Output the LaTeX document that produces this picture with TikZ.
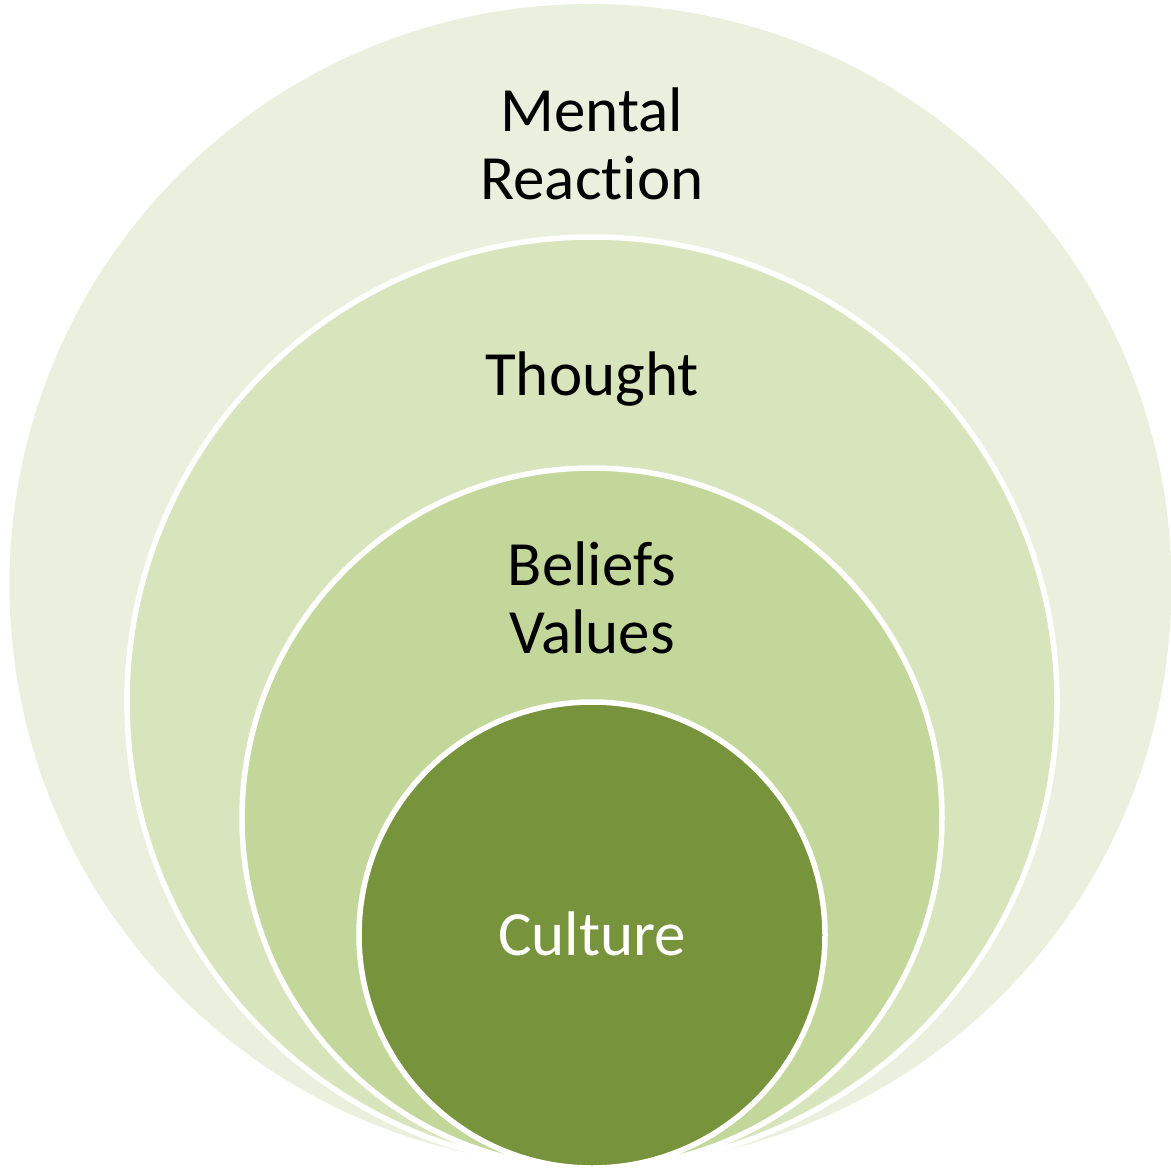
\documentclass[tikz,border=0pt]{standalone}
\usepackage{fontspec}
\setmainfont[RawFeature={-liga;-calt;-clig;-dlig}]{Carlito}
\definecolor{ringA}{HTML}{EBF0DE}
\definecolor{ringB}{HTML}{D8E4BC}
\definecolor{ringC}{HTML}{C4D79B}
\definecolor{ringD}{HTML}{77933C}
\begin{document}
\begin{tikzpicture}[x=1pt,y=-1pt,
  ring/.style={draw=white,line width=5.5pt},
  lbl/.style={font=\fontsize{63}{68}\selectfont,align=center,anchor=base,inner sep=0pt}]
\useasboundingbox (0,0) rectangle (1171,1169);
\fill[ringA] (590.5,585) circle[radius=581];
\path[ring,fill=ringB] (592,702) circle[radius=465];
\path[ring,fill=ringC] (592,818) circle[radius=350];
\path[ring,fill=ringD] (592,935) circle[radius=233];
\node[lbl] (mental) at (592,200) {Mental\\React\kern0pt ion};
\node[lbl] (thought) at (592,395) {Thought};
\node[lbl] (beliefs) at (592,653) {Beliefs\\Values};
\node[lbl,text=white] (culture) at (592,955) {Culture};
\end{tikzpicture}
\end{document}
